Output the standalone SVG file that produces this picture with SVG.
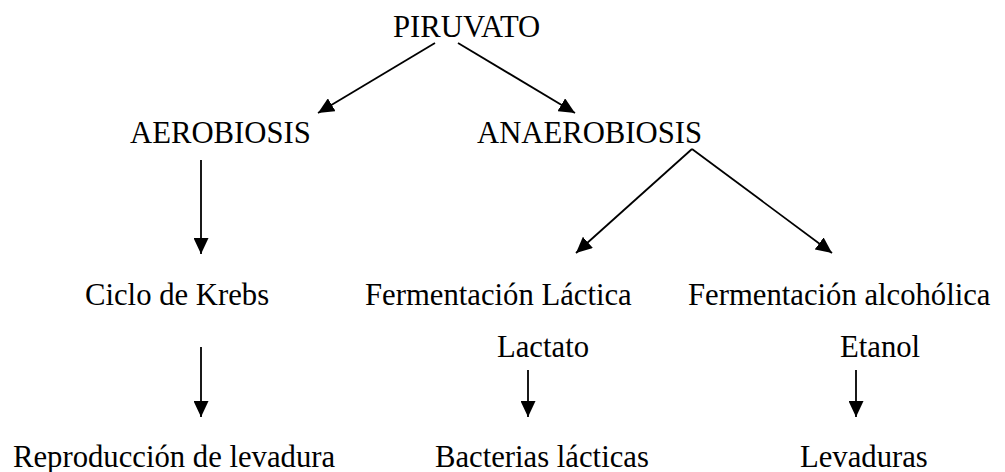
<svg xmlns="http://www.w3.org/2000/svg" width="1005" height="472" viewBox="0 0 1005 472">
<style>
text{font-family:"Liberation Serif","Times New Roman",serif;font-size:30.7px;fill:#000}
.c line{stroke:#000;stroke-width:1.8;marker-end:url(#ah)}
</style>
<defs>
<marker id="ah" markerUnits="userSpaceOnUse" markerWidth="16" markerHeight="15" refX="16" refY="7.5" orient="auto" viewBox="0 0 16 15">
<path d="M0,0 L16,7.5 L0,15 z" fill="#000"/>
</marker>
</defs>
<rect width="1005" height="472" fill="#fff"/>
<g id="piruvato"><text x="393" y="37">PIRUVATO</text></g>
<g id="aerobiosis"><text x="130" y="143">AEROBIOSIS</text></g>
<g id="anaerobiosis"><text x="477" y="143">ANAEROBIOSIS</text></g>
<g id="krebs"><text x="85" y="305">Ciclo de Krebs</text></g>
<g id="lactica"><text x="365" y="305">Fermentación Láctica</text></g>
<g id="alcoholica"><text x="688" y="305">Fermentación alcohólica</text></g>
<g id="lactato"><text x="497" y="357">Lactato</text></g>
<g id="etanol"><text x="840" y="357">Etanol</text></g>
<g id="reproduccion"><text x="13" y="467">Reproducción de levadura</text></g>
<g id="bacterias"><text x="435" y="467">Bacterias lácticas</text></g>
<g id="levaduras"><text x="800" y="467">Levaduras</text></g>
<g id="connectors" class="c">
<line x1="435" y1="43" x2="318" y2="113"/>
<line x1="458" y1="43" x2="575" y2="113"/>
<line x1="201" y1="160" x2="201" y2="254"/>
<line x1="692" y1="149" x2="576" y2="253"/>
<line x1="692" y1="149" x2="832" y2="253"/>
<line x1="201" y1="347" x2="201" y2="417"/>
<line x1="528" y1="370" x2="528" y2="417"/>
<line x1="856" y1="370" x2="856" y2="417"/>
</g>
</svg>
